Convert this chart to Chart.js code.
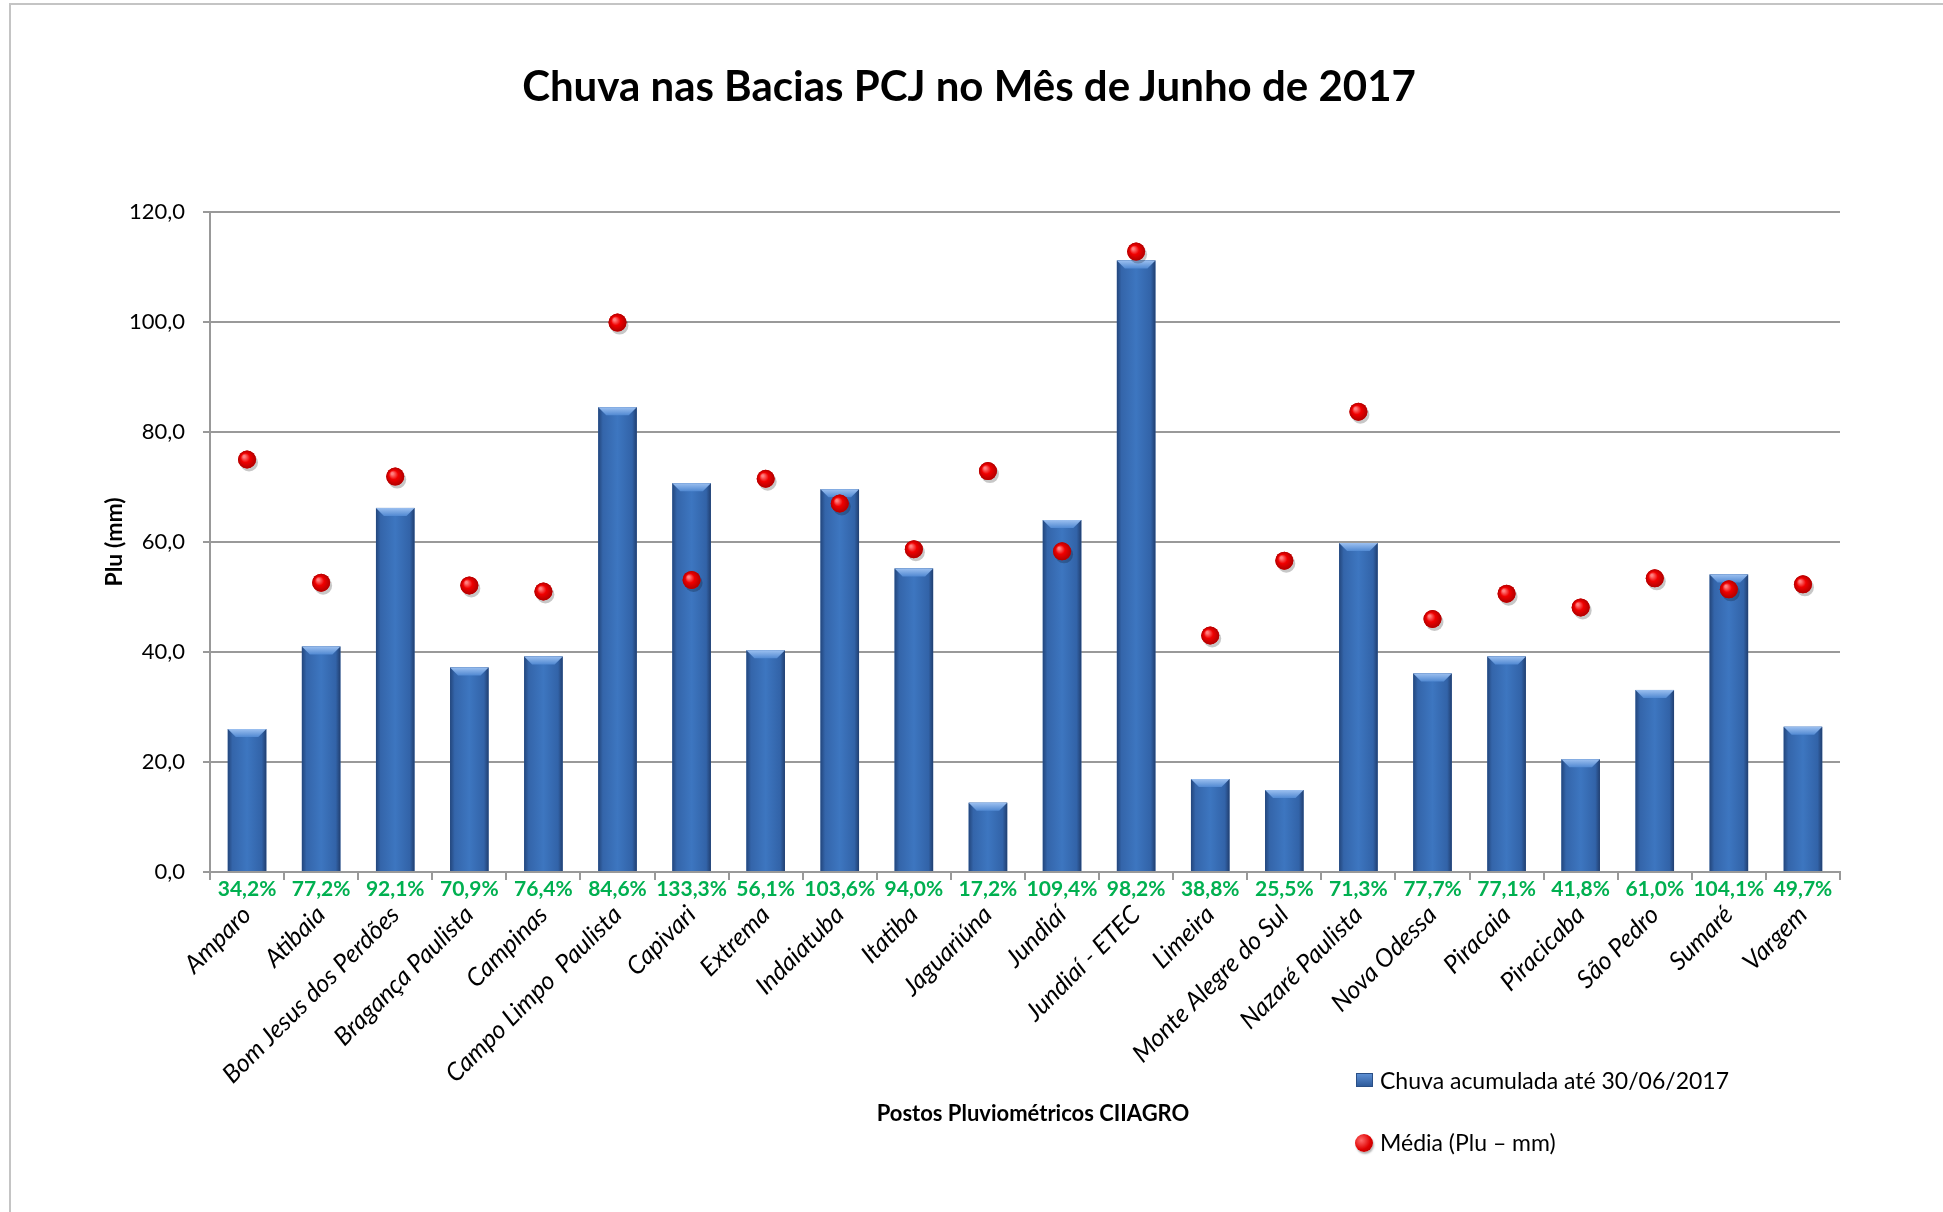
<!DOCTYPE html>
<html>
<head>
<meta charset="utf-8">
<script src="https://cdn.jsdelivr.net/npm/chart.js@4.4.1/dist/chart.umd.min.js"></script>
<style>
  body { margin: 0; background: #fff; font-family: Lato, "Noto Sans", sans-serif; }
  #wrap { position: relative; width: 1943px; height: 1212px; overflow: hidden; }
  #frame { position: absolute; left: 9px; top: 3px; width: 2000px; height: 1300px;
           border-left: 2px solid #c4c4c4; border-top: 2px solid #c4c4c4; }
  canvas { position: absolute; left: 0; top: 0; }
  #title { position: absolute; left: 0; width: 1938px; top: 60px; text-align: center;
           font: bold 42px Lato, sans-serif; color: #000; }
  #xtitle { position: absolute; left: 833px; width: 400px; top: 1099px; text-align: center;
            font: bold 22px Lato, sans-serif; color: #000; }
  .leg { position: absolute; left: 1380px; font: 23px Lato, sans-serif; color: #000; white-space: nowrap; }
  .sq { position: absolute; left: 1356px; top: 1073px; width: 17px; height: 14px;
        background: linear-gradient(#5d8fd3, #2f5c9c); border: 1px solid #2a4f86; box-sizing: border-box; }
  .dot { position: absolute; left: 1355px; top: 1134px; width: 18px; height: 18px; border-radius: 50%;
         background: radial-gradient(circle at 35% 35%, #ff6b6b, #e00000 55%, #a00000);
         box-shadow: 1px 2px 2px rgba(0,0,0,0.3); }
</style>
</head>
<body>
<div id="wrap">
  <div id="frame"></div>
  <canvas id="chart" width="1943" height="1212"></canvas>
  <div id="title">Chuva nas Bacias PCJ no Mês de Junho de 2017</div>
  <div id="xtitle">Postos Pluviométricos CIIAGRO</div>
  <div class="sq"></div>
  <div class="leg" style="top:1066px">Chuva acumulada até 30/06/2017</div>
  <div class="dot"></div>
  <div class="leg" style="top:1128px">Média (Plu – mm)</div>
</div>
<script>
const stations = [
  "Amparo", "Atibaia", "Bom Jesus dos Perdões", "Bragança Paulista", "Campinas",
  "Campo Limpo  Paulista", "Capivari", "Extrema", "Indaiatuba", "Itatiba", "Jaguariúna",
  "Jundiaí", "Jundiaí - ETEC", "Limeira", "Monte Alegre do Sul", "Nazaré Paulista",
  "Nova Odessa", "Piracaia", "Piracicaba", "São Pedro", "Sumaré", "Vargem"
];
const rainfall = [26.0, 41.0, 66.2, 37.2, 39.2, 84.5, 70.7, 40.3, 69.6, 55.2, 12.6,
                  64.0, 111.2, 16.9, 14.9, 59.8, 36.1, 39.2, 20.5, 33.1, 54.1, 26.4];
const average = [75.0, 52.6, 71.9, 52.1, 51.0, 99.9, 53.1, 71.5, 67.0, 58.7, 72.9,
                 58.3, 112.8, 43.0, 56.6, 83.7, 46.0, 50.6, 48.1, 53.4, 51.4, 52.3];
const percentLabels = ["34,2%", "77,2%", "92,1%", "70,9%", "76,4%", "84,6%", "133,3%",
  "56,1%", "103,6%", "94,0%", "17,2%", "109,4%", "98,2%", "38,8%", "25,5%", "71,3%",
  "77,7%", "77,1%", "41,8%", "61,0%", "104,1%", "49,7%"];
const yTicks = [0, 20, 40, 60, 80, 100, 120];

// glossy bars + shaded dots, painted over the library's own elements
const styling = {
  id: "styling",
  beforeDatasetDraw(chart, args) {
    if (args.index !== 1) return;
    const ctx = chart.ctx;
    ctx.save();
    ctx.fillStyle = "rgba(0,0,0,0.22)";
    args.meta.data.forEach((p) => {
      ctx.beginPath();
      ctx.arc(p.x + 2, p.y + 3, 9, 0, Math.PI * 2);
      ctx.fill();
    });
    ctx.restore();
  },
  afterDatasetDraw(chart, args) {
    const ctx = chart.ctx;
    ctx.save();
    if (args.index === 0) {
      args.meta.data.forEach((b) => {
        const l = b.x - b.width / 2, r = b.x + b.width / 2;
        const g = ctx.createLinearGradient(l, 0, r, 0);
        g.addColorStop(0, "#23467c");
        g.addColorStop(0.12, "#3465aa");
        g.addColorStop(0.5, "#3d76c0");
        g.addColorStop(0.88, "#3263a8");
        g.addColorStop(1, "#213f70");
        ctx.fillStyle = g;
        ctx.fillRect(l, b.y, b.width, b.base - b.y);
        // bevel on top
        const bg = ctx.createLinearGradient(0, b.y, 0, b.y + 8);
        bg.addColorStop(0, "#9cc0f0");
        bg.addColorStop(1, "#5189d2");
        ctx.fillStyle = bg;
        ctx.beginPath();
        ctx.moveTo(l, b.y);
        ctx.lineTo(r, b.y);
        ctx.lineTo(r - 8, b.y + 8);
        ctx.lineTo(l + 8, b.y + 8);
        ctx.closePath();
        ctx.fill();
      });
    } else {
      args.meta.data.forEach((p) => {
        const g = ctx.createRadialGradient(p.x - 3, p.y - 3, 1, p.x, p.y, 9);
        g.addColorStop(0, "#ff8080");
        g.addColorStop(0.45, "#f00000");
        g.addColorStop(1, "#b00000");
        ctx.fillStyle = g;
        ctx.beginPath();
        ctx.arc(p.x, p.y, 9, 0, Math.PI * 2);
        ctx.fill();
      });
    }
    ctx.restore();
  },
  afterDraw(chart) {
    const ctx = chart.ctx;
    const xs = chart.scales.x;
    ctx.save();
    ctx.font = "bold 21px Lato, sans-serif";
    ctx.fillStyle = "#00b050";
    ctx.textAlign = "center";
    ctx.textBaseline = "middle";
    percentLabels.forEach((t, i) => {
      ctx.fillText(t, xs.getPixelForValue(i), xs.top + 17);
    });
    ctx.restore();
  }
};

new Chart(document.getElementById("chart"), {
  data: {
    labels: stations,
    datasets: [
      {
        type: "bar",
        label: "Chuva acumulada até 30/06/2017",
        data: rainfall,
        backgroundColor: "#3a6fb6",
        categoryPercentage: 1,
        barPercentage: 0.52,
        order: 2
      },
      {
        type: "line",
        label: "Média (Plu – mm)",
        data: average,
        showLine: false,
        pointRadius: 9,
        pointBackgroundColor: "#e00000",
        pointBorderWidth: 0,
        order: 1
      }
    ]
  },
  options: {
    responsive: false,
    animation: false,
    layout: { padding: { left: 97, right: 103, top: 212, bottom: 0 } },
    plugins: { legend: { display: false }, tooltip: { enabled: false } },
    scales: {
      x: {
        type: "category",
        offset: true,
        afterFit: (s) => { s.height = 340; },
        grid: { offset: true, drawOnChartArea: false, color: "#999", lineWidth: 2, tickLength: 8 },
        border: { color: "#999", width: 2 },
        ticks: {
          autoSkip: false,
          maxRotation: 45,
          minRotation: 45,
          padding: 20,
          color: "#000",
          font: { family: "Lato", size: 25, style: "italic" }
        }
      },
      y: {
        min: 0,
        max: 120,
        afterFit: (s) => { s.width = 113; },
        afterBuildTicks: (s) => { s.ticks = yTicks.map((v) => ({ value: v })); },
        grid: { color: "#999", lineWidth: 2, tickLength: 7 },
        border: { color: "#999", width: 2 },
        title: {
          display: true,
          text: "Plu (mm)",
          color: "#000",
          font: { family: "Lato", size: 23, weight: "bold" }
        },
        ticks: {
          padding: 18,
          color: "#000",
          font: { family: "Lato", size: 22 },
          callback: (v) => v.toFixed(1).replace(".", ",")
        }
      }
    }
  },
  plugins: [styling]
});
</script>
</body>
</html>
